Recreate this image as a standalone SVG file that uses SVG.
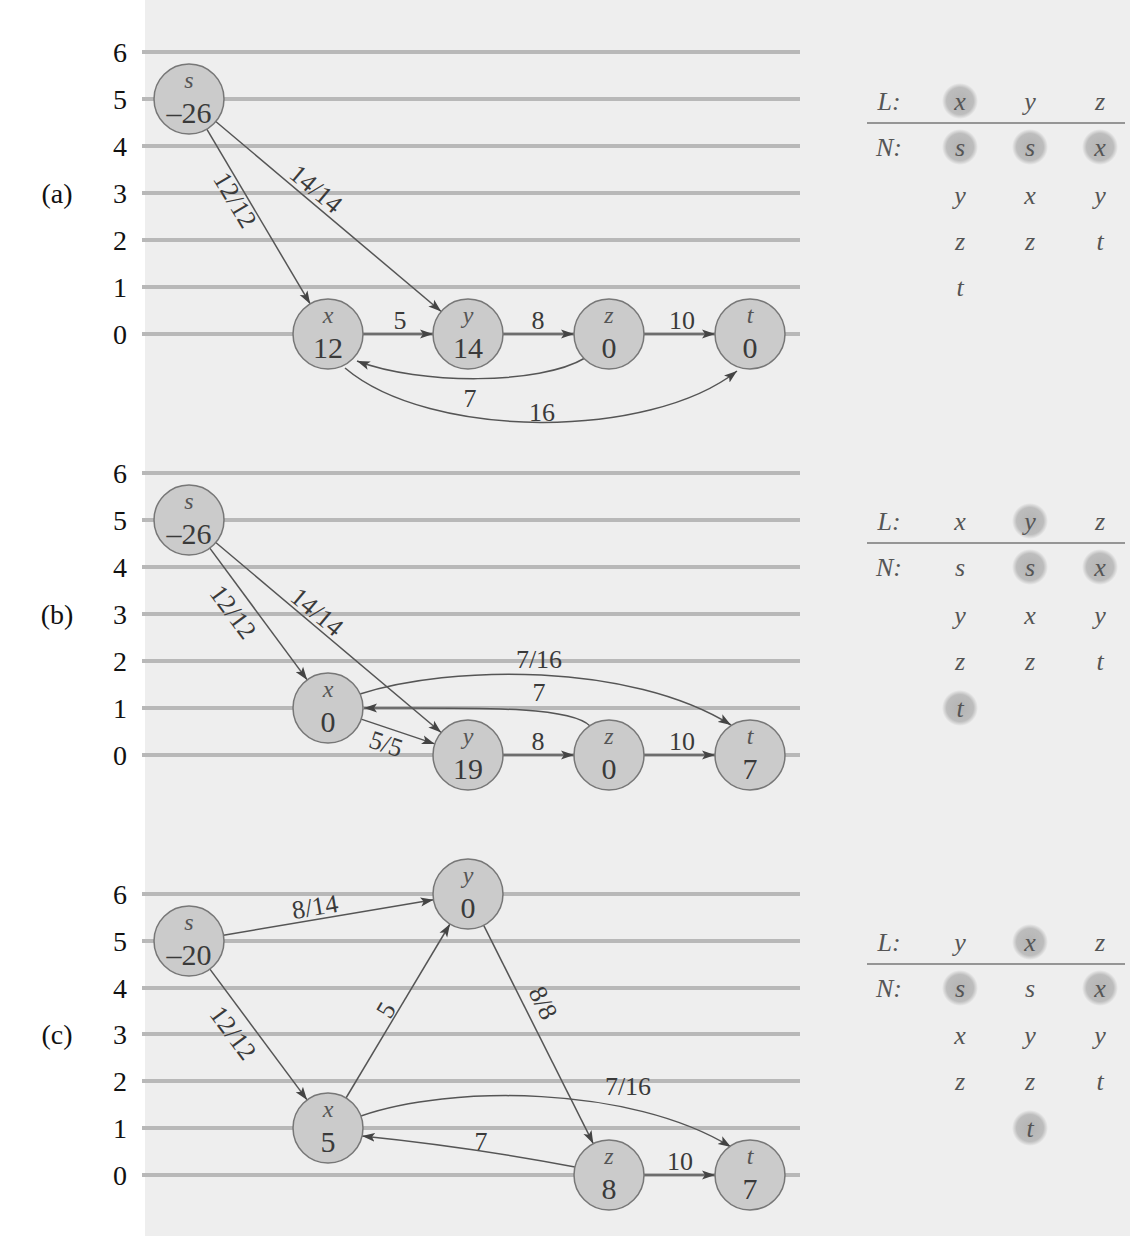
<svg xmlns="http://www.w3.org/2000/svg" width="1130" height="1236" viewBox="0 0 1130 1236">
<defs>
<marker id="ah" markerWidth="14" markerHeight="10" refX="13" refY="5" orient="auto" markerUnits="userSpaceOnUse">
<path d="M0,0.5 L13,5 L0,9.5 L3,5 Z" fill="#444"/>
</marker>
<radialGradient id="hl">
<stop offset="0" stop-color="#b4b4b4"/>
<stop offset="0.75" stop-color="#bdbdbd"/>
<stop offset="1" stop-color="#bdbdbd" stop-opacity="0"/>
</radialGradient>
</defs>
<style>
.bg{fill:#eeeeee}
.lvl{stroke:#b8b8b8;stroke-width:4}
.ax{font-family:"Liberation Serif",serif;font-size:28px;fill:#111;text-anchor:middle;dominant-baseline:central}
.node circle{fill:#cbcbcb;stroke:#777;stroke-width:1.5}
.nl{font-family:"Liberation Serif",serif;font-style:italic;font-size:24px;fill:#555;text-anchor:middle;dominant-baseline:central}
.nv{font-family:"Liberation Serif",serif;font-size:30px;fill:#3a3a3a;text-anchor:middle;dominant-baseline:central}
.e{fill:none;stroke:#555;stroke-width:1.5;marker-end:url(#ah)}
.el{font-family:"Liberation Serif",serif;font-size:26px;fill:#3a3a3a;text-anchor:middle;dominant-baseline:central}
.tb{font-family:"Liberation Serif",serif;font-style:italic;font-size:26px;fill:#555;text-anchor:middle;dominant-baseline:central}
.rule{stroke:#777;stroke-width:1.5}
</style>
<rect class="bg" x="145" y="0" width="985" height="1236"/>
<g id="levels">
<line class="lvl" x1="142" y1="52" x2="800" y2="52"/><line class="lvl" x1="142" y1="99" x2="800" y2="99"/><line class="lvl" x1="142" y1="146" x2="800" y2="146"/><line class="lvl" x1="142" y1="193" x2="800" y2="193"/><line class="lvl" x1="142" y1="240" x2="800" y2="240"/><line class="lvl" x1="142" y1="287" x2="800" y2="287"/><line class="lvl" x1="142" y1="334" x2="800" y2="334"/>
<line class="lvl" x1="142" y1="473" x2="800" y2="473"/><line class="lvl" x1="142" y1="520" x2="800" y2="520"/><line class="lvl" x1="142" y1="567" x2="800" y2="567"/><line class="lvl" x1="142" y1="614" x2="800" y2="614"/><line class="lvl" x1="142" y1="661" x2="800" y2="661"/><line class="lvl" x1="142" y1="708" x2="800" y2="708"/><line class="lvl" x1="142" y1="755" x2="800" y2="755"/>
<line class="lvl" x1="142" y1="894" x2="800" y2="894"/><line class="lvl" x1="142" y1="941" x2="800" y2="941"/><line class="lvl" x1="142" y1="988" x2="800" y2="988"/><line class="lvl" x1="142" y1="1034" x2="800" y2="1034"/><line class="lvl" x1="142" y1="1081" x2="800" y2="1081"/><line class="lvl" x1="142" y1="1128" x2="800" y2="1128"/><line class="lvl" x1="142" y1="1175" x2="800" y2="1175"/>
</g>
<g id="axis">
<text class="ax" x="120" y="52">6</text><text class="ax" x="120" y="99">5</text><text class="ax" x="120" y="146">4</text><text class="ax" x="120" y="193">3</text><text class="ax" x="120" y="240">2</text><text class="ax" x="120" y="287">1</text><text class="ax" x="120" y="334">0</text>
<text class="ax" x="120" y="473">6</text><text class="ax" x="120" y="520">5</text><text class="ax" x="120" y="567">4</text><text class="ax" x="120" y="614">3</text><text class="ax" x="120" y="661">2</text><text class="ax" x="120" y="708">1</text><text class="ax" x="120" y="755">0</text>
<text class="ax" x="120" y="894">6</text><text class="ax" x="120" y="941">5</text><text class="ax" x="120" y="988">4</text><text class="ax" x="120" y="1034">3</text><text class="ax" x="120" y="1081">2</text><text class="ax" x="120" y="1128">1</text><text class="ax" x="120" y="1175">0</text>
<text class="ax" x="57" y="193">(a)</text><text class="ax" x="57" y="614">(b)</text><text class="ax" x="57" y="1034">(c)</text>
</g>
<g id="connectors">
<path class="e" d="M206.8,129.1 L310.2,303.9"/>
<path class="e" d="M215.8,121.5 L441.2,311.5"/>
<path class="e" d="M363,334 L433,334"/>
<path class="e" d="M503,334 L574,334"/>
<path class="e" d="M644,334 L715,334"/>
<path class="e" d="M585,358 C540,385 420,385 357,361"/>
<path class="e" d="M345,368 C430,440 650,440 737,371"/>
<path class="e" d="M209.8,548.1 L307.2,679.9"/>
<path class="e" d="M215.8,542.5 L441.2,732.5"/>
<path class="e" d="M361.2,719.1 L434.8,743.9"/>
<path class="e" d="M503,755 L574,755"/>
<path class="e" d="M644,755 L715,755"/>
<path class="e" d="M360,694 C450,665 630,662 731,725"/>
<path class="e" d="M590,726 C570,706 480,708 364,708"/>
<path class="e" d="M223.5,935.2 L433.5,899.8"/>
<path class="e" d="M209.9,969.1 L307.1,1099.9"/>
<path class="e" d="M346,1098 L450,924"/>
<path class="e" d="M483.7,925.3 L593.3,1143.7"/>
<path class="e" d="M644,1175 L715,1175"/>
<path class="e" d="M361,1116 C450,1085 630,1085 731,1147"/>
<path class="e" d="M575,1167 Q470,1147 362,1136"/>
</g>
<g id="edge-labels">
<text class="el" transform="translate(235,200) rotate(59.4)">12/12</text>
<text class="el" transform="translate(316,189) rotate(40)">14/14</text>
<text class="el" x="400" y="320">5</text>
<text class="el" x="538" y="320">8</text>
<text class="el" x="682" y="320">10</text>
<text class="el" x="470" y="398">7</text>
<text class="el" x="542" y="412">16</text>
<text class="el" transform="translate(233,612) rotate(53.5)">12/12</text>
<text class="el" transform="translate(317,612) rotate(40)">14/14</text>
<text class="el" transform="translate(386,744) rotate(18.6)">5/5</text>
<text class="el" x="539" y="659">7/16</text>
<text class="el" x="539" y="692">7</text>
<text class="el" x="538" y="741">8</text>
<text class="el" x="682" y="741">10</text>
<text class="el" transform="translate(315,907) rotate(-9.5)">8/14</text>
<text class="el" transform="translate(233,1033) rotate(53.4)">12/12</text>
<text class="el" transform="translate(386,1010) rotate(-59)">5</text>
<text class="el" transform="translate(543,1003) rotate(63.3)">8/8</text>
<text class="el" x="628" y="1086">7/16</text>
<text class="el" x="481" y="1141">7</text>
<text class="el" x="680" y="1161">10</text>
</g>
<g id="a-s" class="node"><circle cx="189" cy="99" r="35"/><text class="nl" x="189" y="80">s</text><text class="nv" x="189" y="112">–26</text></g>
<g id="a-x" class="node"><circle cx="328" cy="334" r="35"/><text class="nl" x="328" y="315">x</text><text class="nv" x="328" y="347">12</text></g>
<g id="a-y" class="node"><circle cx="468" cy="334" r="35"/><text class="nl" x="468" y="315">y</text><text class="nv" x="468" y="347">14</text></g>
<g id="a-z" class="node"><circle cx="609" cy="334" r="35"/><text class="nl" x="609" y="315">z</text><text class="nv" x="609" y="347">0</text></g>
<g id="a-t" class="node"><circle cx="750" cy="334" r="35"/><text class="nl" x="750" y="315">t</text><text class="nv" x="750" y="347">0</text></g>
<g id="b-s" class="node"><circle cx="189" cy="520" r="35"/><text class="nl" x="189" y="501">s</text><text class="nv" x="189" y="533">–26</text></g>
<g id="b-x" class="node"><circle cx="328" cy="708" r="35"/><text class="nl" x="328" y="689">x</text><text class="nv" x="328" y="721">0</text></g>
<g id="b-y" class="node"><circle cx="468" cy="755" r="35"/><text class="nl" x="468" y="736">y</text><text class="nv" x="468" y="768">19</text></g>
<g id="b-z" class="node"><circle cx="609" cy="755" r="35"/><text class="nl" x="609" y="736">z</text><text class="nv" x="609" y="768">0</text></g>
<g id="b-t" class="node"><circle cx="750" cy="755" r="35"/><text class="nl" x="750" y="736">t</text><text class="nv" x="750" y="768">7</text></g>
<g id="c-s" class="node"><circle cx="189" cy="941" r="35"/><text class="nl" x="189" y="922">s</text><text class="nv" x="189" y="954">–20</text></g>
<g id="c-y" class="node"><circle cx="468" cy="894" r="35"/><text class="nl" x="468" y="875">y</text><text class="nv" x="468" y="907">0</text></g>
<g id="c-x" class="node"><circle cx="328" cy="1128" r="35"/><text class="nl" x="328" y="1109">x</text><text class="nv" x="328" y="1141">5</text></g>
<g id="c-z" class="node"><circle cx="609" cy="1175" r="35"/><text class="nl" x="609" y="1156">z</text><text class="nv" x="609" y="1188">8</text></g>
<g id="c-t" class="node"><circle cx="750" cy="1175" r="35"/><text class="nl" x="750" y="1156">t</text><text class="nv" x="750" y="1188">7</text></g>
<g id="table-a">
<circle cx="960" cy="101" r="18" fill="url(#hl)"/><circle cx="960" cy="147" r="18" fill="url(#hl)"/><circle cx="1030" cy="147" r="18" fill="url(#hl)"/><circle cx="1100" cy="147" r="18" fill="url(#hl)"/>
<line class="rule" x1="867" y1="123" x2="1125" y2="123"/>
<text class="tb" x="889" y="101">L:</text><text class="tb" x="960" y="101">x</text><text class="tb" x="1030" y="101">y</text><text class="tb" x="1100" y="101">z</text>
<text class="tb" x="889" y="147">N:</text><text class="tb" x="960" y="147">s</text><text class="tb" x="1030" y="147">s</text><text class="tb" x="1100" y="147">x</text>
<text class="tb" x="960" y="195">y</text><text class="tb" x="1030" y="195">x</text><text class="tb" x="1100" y="195">y</text>
<text class="tb" x="960" y="241">z</text><text class="tb" x="1030" y="241">z</text><text class="tb" x="1100" y="241">t</text>
<text class="tb" x="960" y="287">t</text>
</g>
<g id="table-b">
<circle cx="1030" cy="521" r="18" fill="url(#hl)"/><circle cx="1030" cy="567" r="18" fill="url(#hl)"/><circle cx="1100" cy="567" r="18" fill="url(#hl)"/><circle cx="960" cy="708" r="18" fill="url(#hl)"/>
<line class="rule" x1="867" y1="543" x2="1125" y2="543"/>
<text class="tb" x="889" y="521">L:</text><text class="tb" x="960" y="521">x</text><text class="tb" x="1030" y="521">y</text><text class="tb" x="1100" y="521">z</text>
<text class="tb" x="889" y="567">N:</text><text class="tb" x="960" y="567">s</text><text class="tb" x="1030" y="567">s</text><text class="tb" x="1100" y="567">x</text>
<text class="tb" x="960" y="615">y</text><text class="tb" x="1030" y="615">x</text><text class="tb" x="1100" y="615">y</text>
<text class="tb" x="960" y="661">z</text><text class="tb" x="1030" y="661">z</text><text class="tb" x="1100" y="661">t</text>
<text class="tb" x="960" y="708">t</text>
</g>
<g id="table-c">
<circle cx="1030" cy="942" r="18" fill="url(#hl)"/><circle cx="960" cy="988" r="18" fill="url(#hl)"/><circle cx="1100" cy="988" r="18" fill="url(#hl)"/><circle cx="1030" cy="1128" r="18" fill="url(#hl)"/>
<line class="rule" x1="867" y1="964" x2="1125" y2="964"/>
<text class="tb" x="889" y="942">L:</text><text class="tb" x="960" y="942">y</text><text class="tb" x="1030" y="942">x</text><text class="tb" x="1100" y="942">z</text>
<text class="tb" x="889" y="988">N:</text><text class="tb" x="960" y="988">s</text><text class="tb" x="1030" y="988">s</text><text class="tb" x="1100" y="988">x</text>
<text class="tb" x="960" y="1035">x</text><text class="tb" x="1030" y="1035">y</text><text class="tb" x="1100" y="1035">y</text>
<text class="tb" x="960" y="1081">z</text><text class="tb" x="1030" y="1081">z</text><text class="tb" x="1100" y="1081">t</text>
<text class="tb" x="1030" y="1128">t</text>
</g>
</svg>
